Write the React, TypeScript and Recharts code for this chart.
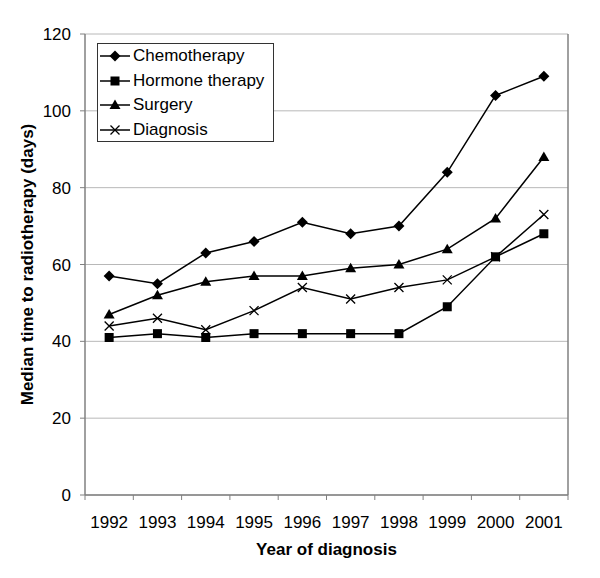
import React from "react";
import {
  LineChart,
  Line,
  XAxis,
  YAxis,
  CartesianGrid,
  Legend,
  ReferenceLine,
} from "recharts";

const years = [1992, 1993, 1994, 1995, 1996, 1997, 1998, 1999, 2000, 2001];
const chemotherapy = [57, 55, 63, 66, 71, 68, 70, 84, 104, 109];
const hormoneTherapy = [41, 42, 41, 42, 42, 42, 42, 49, 62, 68];
const surgery = [47, 52, 55.5, 57, 57, 59, 60, 64, 72, 88];
const diagnosis = [44, 46, 43, 48, 54, 51, 54, 56, 62, 73];
const yTicks = [0, 20, 40, 60, 80, 100, 120];

// tick marks sit between the years, like the old Excel category axis
const yearEdges = [...years.map((y) => y - 0.5), years[years.length - 1] + 0.5];
const xDomain = [yearEdges[0], yearEdges[yearEdges.length - 1]];

const FONT = "'Liberation Sans', Arial, sans-serif";
const AXIS = "#808080";
const GRID = "#b8b8b8";

type Shape = "diamond" | "square" | "triangle" | "cross";

const SERIES: { key: string; name: string; shape: Shape }[] = [
  { key: "chemotherapy", name: "Chemotherapy", shape: "diamond" },
  { key: "hormone", name: "Hormone therapy", shape: "square" },
  { key: "surgery", name: "Surgery", shape: "triangle" },
  { key: "diagnosis", name: "Diagnosis", shape: "cross" },
];

const data = years.map((year, i) => ({
  year,
  chemotherapy: chemotherapy[i],
  hormone: hormoneTherapy[i],
  surgery: surgery[i],
  diagnosis: diagnosis[i],
}));

function Marker({ shape, cx, cy }: { shape: Shape; cx: number; cy: number }) {
  if (shape === "diamond") {
    const r = 5.5;
    return (
      <polygon
        points={`${cx},${cy - r} ${cx + r},${cy} ${cx},${cy + r} ${cx - r},${cy}`}
        fill="#000"
      />
    );
  }
  if (shape === "square") {
    return <rect x={cx - 4.5} y={cy - 4.5} width={9} height={9} fill="#000" />;
  }
  if (shape === "triangle") {
    return (
      <polygon
        points={`${cx},${cy - 5.5} ${cx + 5.5},${cy + 4} ${cx - 5.5},${cy + 4}`}
        fill="#000"
      />
    );
  }
  const r = 4.5;
  return (
    <path
      d={`M${cx - r},${cy - r}L${cx + r},${cy + r}M${cx + r},${cy - r}L${cx - r},${cy + r}`}
      stroke="#000"
      strokeWidth={1.3}
      fill="none"
    />
  );
}

const dotFor = (shape: Shape) => (props: any) => {
  const { cx, cy, index } = props;
  return <Marker key={`m-${index}`} shape={shape} cx={cx} cy={cy} />;
};

function LegendBox({ payload }: { payload?: any[] }) {
  // keep the series order, not the alphabetical one
  const order = (k: string) => SERIES.findIndex((s) => s.key === k);
  const items = [...(payload ?? [])].sort(
    (a, b) => order(a.dataKey) - order(b.dataKey)
  );
  return (
    <div
      style={{
        boxSizing: "border-box",
        width: 177,
        height: 99,
        border: "1px solid #333",
        background: "#fff",
        padding: "0 0 0 2px",
        fontFamily: FONT,
        fontSize: 17,
        color: "#000",
      }}
    >
      {items.map((entry) => {
        const s = SERIES.find((d) => d.key === entry.dataKey);
        return (
          <div
            key={entry.dataKey}
            style={{ display: "flex", alignItems: "center", height: 24.5 }}
          >
            <svg width={30} height={16} style={{ marginRight: 3 }}>
              <line x1={0} x2={30} y1={8} y2={8} stroke="#000" strokeWidth={1.5} />
              <Marker shape={s ? s.shape : "square"} cx={15} cy={8} />
            </svg>
            <span>{entry.value}</span>
          </div>
        );
      })}
    </div>
  );
}

const NoLabel = () => <g />;

export default function App() {
  return (
    <div style={{ position: "absolute", left: 0, top: 0, background: "#fff" }}>
      <LineChart
        width={600}
        height={578}
        data={data}
        margin={{ top: 34, right: 32, left: 25, bottom: 8 }}
        style={{ fontFamily: FONT }}
      >
        <CartesianGrid vertical={false} stroke={GRID} />
        <XAxis
          xAxisId="marks"
          type="number"
          dataKey="year"
          domain={xDomain}
          ticks={yearEdges}
          interval={0}
          tick={<NoLabel />}
          tickSize={5}
          tickLine={{ stroke: AXIS }}
          axisLine={{ stroke: AXIS, strokeWidth: 1.5 }}
          height={1}
          allowDataOverflow
        />
        <XAxis
          xAxisId="years"
          type="number"
          dataKey="year"
          domain={xDomain}
          ticks={years}
          interval={0}
          tickLine={false}
          axisLine={false}
          tickSize={0}
          tickMargin={20}
          height={74}
          tick={{ fill: "#000", fontSize: 17, fontFamily: FONT }}
          label={{
            value: "Year of diagnosis",
            position: "insideBottom",
            offset: 15,
            style: { fill: "#000", fontSize: 17, fontWeight: 700, fontFamily: FONT },
          }}
        />
        <YAxis
          domain={[0, 120]}
          ticks={yTicks}
          interval={0}
          width={60}
          tickSize={5}
          tickMargin={9}
          tickLine={{ stroke: AXIS }}
          axisLine={{ stroke: AXIS, strokeWidth: 1.5 }}
          tick={{ fill: "#000", fontSize: 17, fontFamily: FONT }}
          label={{
            value: "Median time to radiotherapy (days)",
            angle: -90,
            position: "insideLeft",
            offset: 2,
            style: {
              fill: "#000",
              fontSize: 17,
              fontWeight: 700,
              fontFamily: FONT,
              textAnchor: "middle",
            },
          }}
        />
        <ReferenceLine xAxisId="marks" x={xDomain[1]} stroke={AXIS} strokeWidth={1.5} />
        <Legend
          layout="vertical"
          align="center"
          verticalAlign="middle"
          content={<LegendBox />}
          wrapperStyle={{ left: 97, top: 43, width: "auto", height: "auto" }}
        />
        {SERIES.map((s) => (
          <Line
            key={s.key}
            xAxisId="years"
            dataKey={s.key}
            name={s.name}
            stroke="#000"
            strokeWidth={1.5}
            dot={dotFor(s.shape)}
            activeDot={false}
            isAnimationActive={false}
          />
        ))}
      </LineChart>
    </div>
  );
}
